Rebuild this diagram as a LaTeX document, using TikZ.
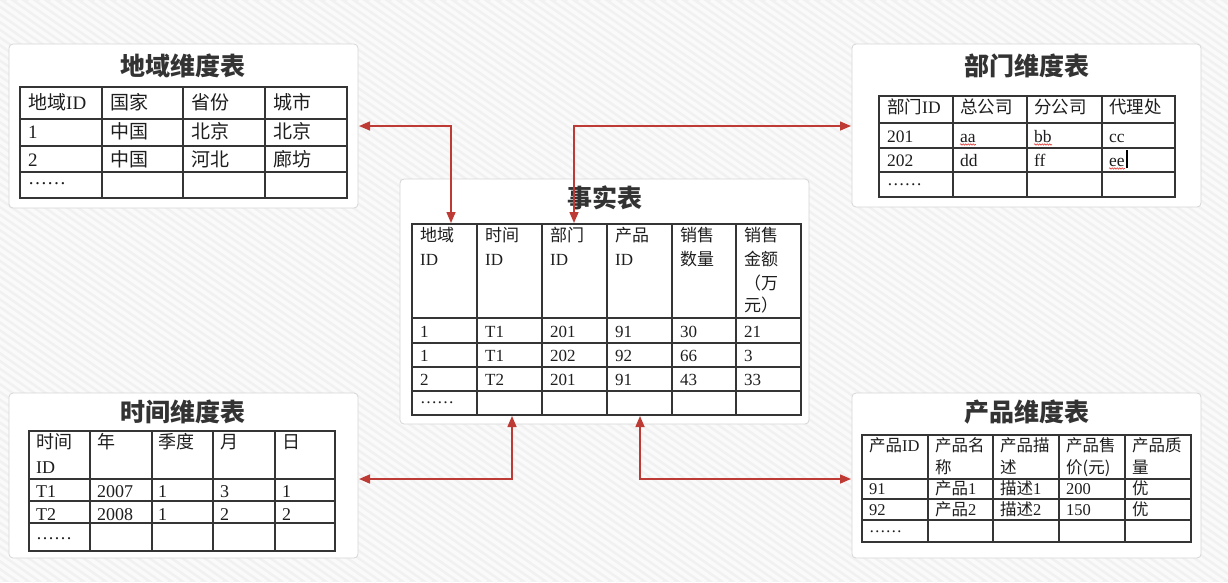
\documentclass[tikz,border=0pt]{standalone}
\usepackage{fontspec}
\setmainfont{Liberation Serif}
\newfontfamily\cjkfont{Noto Sans CJK SC}
\newcommand\zh[1]{{\cjkfont #1}}
\usetikzlibrary{arrows.meta,decorations.pathmorphing}

\definecolor{bgbase}{HTML}{F1F1F1}
\definecolor{bgstripe}{HTML}{FAFAFA}
\definecolor{panelline}{HTML}{D6D6D6}
\definecolor{gridline}{HTML}{353535}
\definecolor{linkred}{HTML}{BE3A34}
\definecolor{titlegray}{HTML}{333333}
\definecolor{textgray}{HTML}{1E1E1E}
\definecolor{spellred}{HTML}{E0403A}

% one row of cell texts: prefix, row tag, baseline, list of x/text
\newcommand\cellrow[4]{%
  \foreach \x/\t [count=\i] in {#4} \node[ttxt] (#1-#2-\i) at (\x,#3) {\t};}

\begin{document}
\begin{tikzpicture}[x=1pt,y=-1pt,
  panel/.style={draw=panelline, fill=white, rounded corners=4pt, line width=0.8pt, inner sep=0pt},
  ttl/.style={font=\cjkfont\bfseries\fontsize{25}{25}\selectfont, text=titlegray, anchor=base, inner sep=0pt},
  grid/.style={draw=gridline, line width=1.5pt, line cap=rect},
  link/.style={draw=linkred, line width=1.5pt,
    {Triangle[length=11pt,width=9pt]}-{Triangle[length=11pt,width=9pt]}},
  ttxt/.style={anchor=base west, inner sep=0pt, text=textgray},
  wavy/.style={draw=spellred, line width=0.6pt, decorate,
    decoration={snake, amplitude=0.7pt, segment length=2.5pt}}]

\useasboundingbox (0,0) rectangle (1228,582);

% striped backdrop
\begin{scope}
  \clip (0,0) rectangle (1228,582);
  \fill[bgbase] (0,0) rectangle (1228,582);
  \foreach \c in {-840,-829,...,1228}
    \draw[bgstripe, line width=3.5pt] (\c,0) -- ({\c+831},582);
\end{scope}

% panels
\node[panel, minimum width=349pt, minimum height=164pt] (geo)  at (183.5,126) {};
\node[panel, minimum width=349pt, minimum height=163pt] (dept) at (1026.5,125.5) {};
\node[panel, minimum width=409pt, minimum height=245pt] (fact) at (604.5,301.5) {};
\node[panel, minimum width=349pt, minimum height=165pt] (time) at (183.5,475.5) {};
\node[panel, minimum width=349pt, minimum height=165pt] (prod) at (1026.5,475.5) {};

% titles
\node[ttl] (geo-title)  at (183,75)   {地域维度表};
\node[ttl] (dept-title) at (1027,75)  {部门维度表};
\node[ttl] (fact-title) at (605,207)  {事实表};
\node[ttl] (time-title) at (183,421)  {时间维度表};
\node[ttl] (prod-title) at (1027,421) {产品维度表};

% ---- region table
\foreach \x in {20,102,183,265,347} \draw[grid] (\x,87) -- (\x,198);
\foreach \y in {87,119,146,172,198} \draw[grid] (20,\y) -- (347,\y);
\begin{scope}[font=\fontsize{19}{19}\selectfont]
  \cellrow{geo}{h}{109}{28/\zh{地域}ID, 110/\zh{国家}, 191/\zh{省份}, 273/\zh{城市}}
  \cellrow{geo}{r1}{138}{28/1, 110/\zh{中国}, 191/\zh{北京}, 273/\zh{北京}}
  \cellrow{geo}{r2}{166}{28/2, 110/\zh{中国}, 191/\zh{河北}, 273/\zh{廊坊}}
  \cellrow{geo}{r3}{184}{28/……}
\end{scope}

% ---- department table
\foreach \x in {879,953,1027,1102,1175} \draw[grid] (\x,96) -- (\x,197);
\foreach \y in {96,123,148,172,197} \draw[grid] (879,\y) -- (1175,\y);
\begin{scope}[font=\fontsize{17.5}{17.5}\selectfont]
  \cellrow{dept}{h}{113}{887/\zh{部门}ID, 960/\zh{总公司}, 1034/\zh{分公司}, 1109/\zh{代理处}}
  \cellrow{dept}{r1}{142}{887/201, 960/aa, 1034/bb, 1109/cc}
  \cellrow{dept}{r2}{166}{887/202, 960/dd, 1034/ff, 1109/ee}
  \cellrow{dept}{r3}{185}{887/……}
\end{scope}
\draw[wavy] ([yshift=-2.5pt]dept-r1-2.base west) -- ([yshift=-2.5pt]dept-r1-2.base east);
\draw[wavy] ([yshift=-2.5pt]dept-r1-3.base west) -- ([yshift=-2.5pt]dept-r1-3.base east);
\draw[wavy] ([yshift=-2.5pt]dept-r2-4.base west) -- ([yshift=-2.5pt]dept-r2-4.base east);
\draw[line width=1.4pt] ([xshift=2pt,yshift=-2pt]dept-r2-4.base east) -- ([xshift=2pt,yshift=16pt]dept-r2-4.base east);

% ---- fact table
\foreach \x in {412,477,542,607,672,736,801} \draw[grid] (\x,224) -- (\x,415);
\foreach \y in {224,318,343,367,391,415} \draw[grid] (412,\y) -- (801,\y);
\begin{scope}[font=\fontsize{17}{17}\selectfont]
  \cellrow{fact}{h1}{241}{420/\zh{地域}, 485/\zh{时间}, 550/\zh{部门}, 615/\zh{产品}, 680/\zh{销售}, 744/\zh{销售}}
  \cellrow{fact}{h2}{265}{420/ID, 485/ID, 550/ID, 615/ID, 680/\zh{数量}, 744/\zh{金额}}
  \cellrow{fact}{h3}{289}{744/\zh{（万}}
  \cellrow{fact}{h4}{311}{744/\zh{元）}}
  \cellrow{fact}{r1}{337}{420/1, 485/T1, 550/201, 615/91, 680/30, 744/21}
  \cellrow{fact}{r2}{361}{420/1, 485/T1, 550/202, 615/92, 680/66, 744/3}
  \cellrow{fact}{r3}{385}{420/2, 485/T2, 550/201, 615/91, 680/43, 744/33}
  \cellrow{fact}{r4}{403}{420/……}
\end{scope}

% ---- time table
\foreach \x in {29,90,152,213,275,335} \draw[grid] (\x,431) -- (\x,551);
\foreach \y in {431,479,501,523,551} \draw[grid] (29,\y) -- (335,\y);
\begin{scope}[font=\fontsize{18}{18}\selectfont]
  \cellrow{time}{h1}{448}{36/\zh{时间}, 97/\zh{年}, 158/\zh{季度}, 220/\zh{月}, 282/\zh{日}}
  \cellrow{time}{h2}{473}{36/ID}
  \cellrow{time}{r1}{497}{36/T1, 97/2007, 158/1, 220/3, 282/1}
  \cellrow{time}{r2}{520}{36/T2, 97/2008, 158/1, 220/2, 282/2}
  \cellrow{time}{r3}{539}{36/……}
\end{scope}

% ---- product table
\foreach \x in {862,928,993,1059,1125,1191} \draw[grid] (\x,435) -- (\x,542);
\foreach \y in {435,479,499,520,542} \draw[grid] (862,\y) -- (1191,\y);
\begin{scope}[font=\fontsize{16.5}{16.5}\selectfont]
  \cellrow{prod}{h1}{451}{869/\zh{产品}ID, 935/\zh{产品名}, 1000/\zh{产品描}, 1066/\zh{产品售}, 1132/\zh{产品质}}
  \cellrow{prod}{h2}{473}{935/\zh{称}, 1000/\zh{述}, 1066/\zh{价(元)}, 1132/\zh{量}}
  \cellrow{prod}{r1}{494}{869/91, 935/\zh{产品}1, 1000/\zh{描述}1, 1066/200, 1132/\zh{优}}
  \cellrow{prod}{r2}{515}{869/92, 935/\zh{产品}2, 1000/\zh{描述}2, 1066/150, 1132/\zh{优}}
  \cellrow{prod}{r3}{532}{869/……}
\end{scope}

% ---- links between the fact table and the dimension tables
\coordinate (geo-port)     at (359,126);
\coordinate (fact-geo)     at (451,223);
\coordinate (dept-port)    at (851,126);
\coordinate (fact-dept)    at (574,223);
\coordinate (time-port)    at (359,479);
\coordinate (fact-time)    at (512,416);
\coordinate (prod-port)    at (851,479);
\coordinate (fact-prod)    at (640,416);
\draw[link] (geo-port) -| (fact-geo);
\draw[link] (fact-dept) |- (dept-port);
\draw[link] (time-port) -| (fact-time);
\draw[link] (fact-prod) |- (prod-port);

\end{tikzpicture}
\end{document}
